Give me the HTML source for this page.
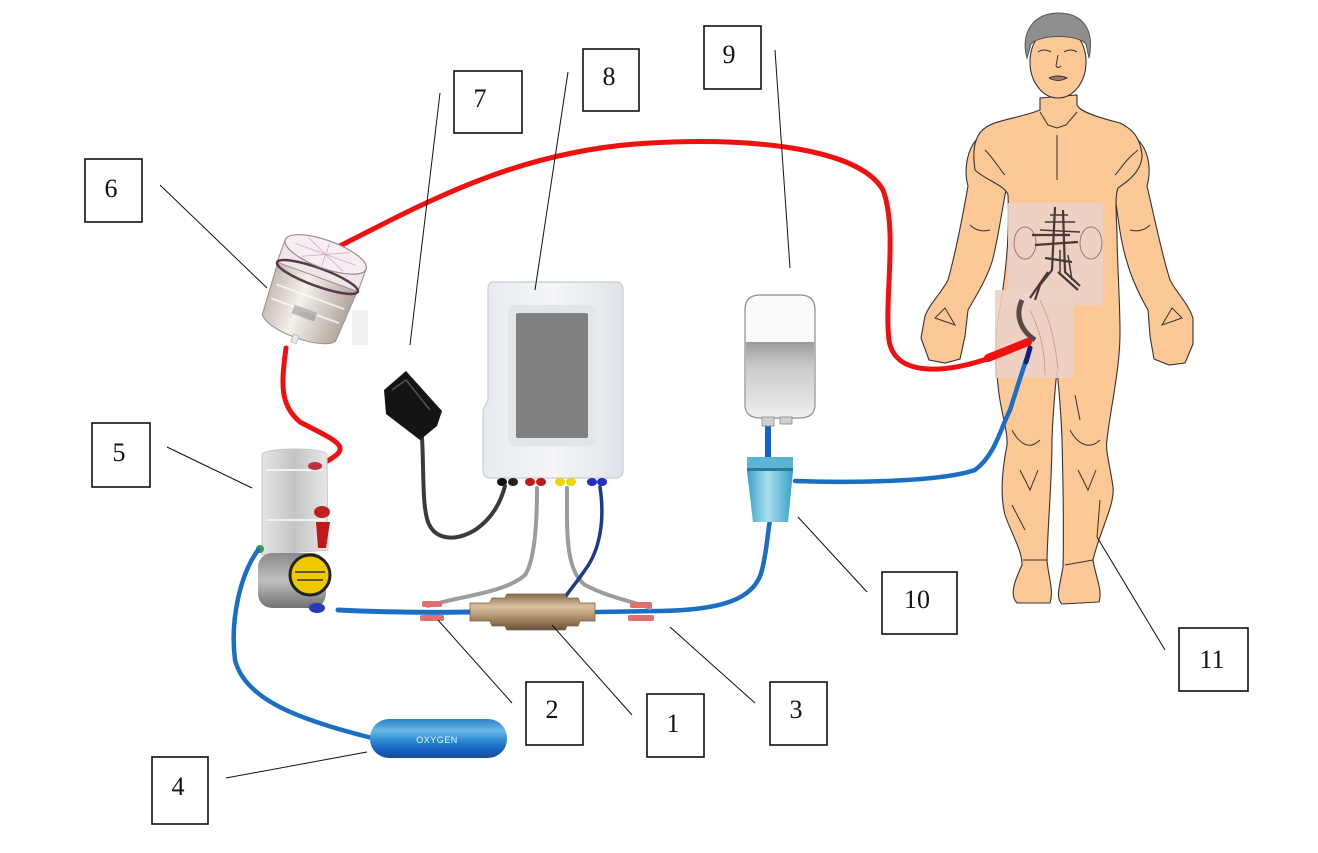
<!DOCTYPE html>
<html><head><meta charset="utf-8"><style>
html,body{margin:0;padding:0;background:#fff;}
svg{display:block;}
text{font-family:"Liberation Serif",serif;}
</style></head><body>
<svg width="1318" height="853" viewBox="0 0 1318 853" xmlns="http://www.w3.org/2000/svg">
<defs>
<linearGradient id="brass" x1="0" y1="0" x2="0" y2="1"><stop offset="0" stop-color="#8a6a4a"/><stop offset="0.35" stop-color="#d9c3a3"/><stop offset="0.7" stop-color="#a68562"/><stop offset="1" stop-color="#6a5038"/></linearGradient>
<linearGradient id="oxy" x1="0" y1="0" x2="0" y2="1"><stop offset="0" stop-color="#2a80c8"/><stop offset="0.3" stop-color="#6ab8e8"/><stop offset="0.55" stop-color="#2c8ad0"/><stop offset="0.8" stop-color="#1560c0"/><stop offset="1" stop-color="#1a4a90"/></linearGradient>
<linearGradient id="bag" x1="0" y1="0" x2="0" y2="1"><stop offset="0" stop-color="#9a9a9a"/><stop offset="0.3" stop-color="#c8c8c8"/><stop offset="1" stop-color="#eeeeee"/></linearGradient>
<linearGradient id="drip" x1="0" y1="0" x2="1" y2="0"><stop offset="0" stop-color="#3aa0c8"/><stop offset="0.45" stop-color="#a8e0ee"/><stop offset="1" stop-color="#3aa0c8"/></linearGradient>
<linearGradient id="dev8" x1="0" y1="0" x2="1" y2="0"><stop offset="0" stop-color="#e6e9ef"/><stop offset="0.5" stop-color="#f4f6f9"/><stop offset="1" stop-color="#dfe2e8"/></linearGradient>
<linearGradient id="chamber" x1="0" y1="0" x2="1" y2="0"><stop offset="0" stop-color="#e4e4e4"/><stop offset="0.5" stop-color="#c4c4c4"/><stop offset="1" stop-color="#e8e8e8"/></linearGradient>
<linearGradient id="filt" x1="0" y1="0" x2="1" y2="0"><stop offset="0" stop-color="#c4b9b0"/><stop offset="0.4" stop-color="#f4f0ea"/><stop offset="1" stop-color="#b0a49a"/></linearGradient>
<linearGradient id="pump" x1="0" y1="0" x2="0" y2="1"><stop offset="0" stop-color="#8a8a8a"/><stop offset="0.5" stop-color="#c0c0c0"/><stop offset="1" stop-color="#707070"/></linearGradient>
</defs>

<!-- ===== Human figure ===== -->
<g stroke="#3a3030" stroke-width="1.1" fill="#fcc895">
<path d="M978,138 C966,150 964,172 968,186 C962,220 955,255 948,280 C940,295 930,303 925,316 L921,338 L929,360 L945,363 L960,359 L965,336 L968,310 C976,296 986,280 992,262 C998,240 1001,215 1006,190 Z"/>
<path d="M1138,140 C1150,152 1151,172 1147,186 C1155,220 1162,255 1170,280 C1178,295 1188,303 1193,318 L1193,344 L1185,363 L1169,365 L1154,359 L1150,336 L1148,310 C1140,296 1132,280 1127,262 C1120,240 1118,215 1114,190 Z"/>
<path d="M1040,98 L1040,110 C1020,118 995,120 985,128 C975,135 972,150 975,170 C985,180 1005,185 1008,195 C1010,240 1005,280 998,320 C994,350 996,370 998,385 C1000,410 1008,430 1007,445 C1002,470 1000,495 1005,515 C1012,535 1022,550 1022,565 C1015,580 1009,595 1017,603 L1050,603 C1054,590 1048,575 1047,560 C1048,520 1052,480 1052,440 C1053,410 1055,390 1057,370 C1059,390 1061,410 1062,440 C1063,480 1064,530 1063,567 C1060,585 1055,598 1062,604 L1099,602 C1103,590 1095,575 1093,560 C1100,530 1115,505 1113,487 C1110,465 1105,450 1107,440 C1110,410 1120,370 1120,333 C1120,300 1117,260 1117,233 C1116,210 1115,195 1118,188 C1130,180 1142,170 1142,155 C1140,135 1130,128 1120,123 C1100,118 1080,112 1077,105 L1077,95 Z"/>
<ellipse cx="1058" cy="62" rx="28" ry="36"/>
</g>
<path d="M1027,58 C1020,32 1034,13 1058,13 C1083,13 1095,30 1089,58 L1086,44 C1078,34 1040,34 1031,44 Z" fill="#8e8e8e" stroke="#555" stroke-width="1"/>
<g stroke="#3a3030" stroke-width="1" fill="none">
<path d="M1038,52 q6,-4 13,0 M1064,52 q7,-4 13,0"/>
<path d="M1058,55 L1056,66 q2,3 5,0"/>
<path d="M1049,78 q9,-4 18,0 q-9,5 -18,0" fill="#b07070"/>
<path d="M1057,135 L1057,180"/>
<path d="M1040,112 L1048,125 L1057,128 L1066,125 L1077,112"/>
<path d="M985,150 C995,160 1000,170 1005,175 M1138,150 C1125,160 1120,170 1115,175"/>
<path d="M970,225 C975,230 982,232 990,230 M1150,225 C1145,230 1138,232 1130,230"/>
<path d="M935,318 L945,308 L955,325 Z M1182,318 L1172,308 L1162,325 Z"/>
<path d="M1012,430 C1020,445 1030,450 1040,440 M1020,470 L1030,490 L1038,470"/>
<path d="M1070,430 C1078,445 1090,450 1100,440 M1078,470 L1088,490 L1096,470"/>
<path d="M1023,560 L1047,560 M1065,565 L1093,560"/>
<path d="M1012,505 L1025,530 M1100,500 L1097,537"/>
<path d="M1075,395 L1080,420"/>
</g>
<rect x="1008" y="203" width="95" height="102" fill="#ecd2c6" opacity="0.9"/>
<rect x="995" y="290" width="78" height="88" fill="#ecd2c6" opacity="0.9"/>
<g stroke="#a07878" stroke-width="1" fill="none">
<ellipse cx="1025" cy="243" rx="11" ry="16"/>
<ellipse cx="1091" cy="243" rx="11" ry="16"/>
</g>
<g stroke="#4a3838" stroke-width="2.2" fill="none">
<path d="M1055,207 L1052,270 L1040,285 L1035,300 M1063,210 L1065,272 L1080,286"/>
<path d="M1032,235 L1070,235 M1035,245 L1078,242 M1045,258 L1072,262"/>
<path d="M1048,272 L1030,298 M1058,272 L1078,290"/>
<path d="M1045,222 L1075,222 M1040,230 L1080,232 M1050,215 L1068,215" stroke-width="1.5"/>
<path d="M1060,250 L1060,275 M1068,255 L1072,280" stroke-width="1.5"/>
<path d="M1022,300 C1015,315 1020,330 1035,340" stroke-width="5" stroke="#5a4848"/>
</g>
<g stroke="#d09090" stroke-width="0.8" fill="none">
<path d="M1040,300 C1050,320 1055,340 1058,370 M1030,310 C1040,330 1045,350 1045,375"/>
</g>

<!-- ===== Red tubes ===== -->
<g fill="none" stroke="#f01010" stroke-linecap="round">
<path d="M332,250 C430,200 520,150 650,143 C760,137 860,150 883,190 C898,230 884,300 889,340 C894,375 940,375 990,358" stroke-width="5"/>
<path d="M988,358 L1028,342" stroke-width="8"/>
<path d="M286,348 C281,385 280,405 300,422 C330,438 350,445 335,456 C326,463 318,466 312,468" stroke-width="5"/>
</g>

<!-- ===== Filter (6) ===== -->
<g transform="translate(312,292) rotate(20)">
<path d="M-43,-28 L-39,38 C-30,52 30,52 39,38 L43,-28 Z" fill="url(#filt)" stroke="#9a8e86" stroke-width="1"/>
<path d="M-36,5 L36,5 M-36,20 L36,20" stroke="#ffffff" stroke-width="2" opacity="0.7"/>
<rect x="-43" y="-40" width="86" height="24" fill="#efe6e8" stroke="#a08890" stroke-width="1"/>
<ellipse cx="0" cy="-16" rx="43" ry="9" fill="none" stroke="#5a3a4a" stroke-width="2.5"/>
<ellipse cx="0" cy="-40" rx="43" ry="14" fill="#f6eef2" stroke="#a08890" stroke-width="1.2"/>
<path d="M-32,-40 L32,-40 M0,-52 L0,-28 M-22,-50 L22,-30 M22,-50 L-22,-30" stroke="#d8a8c0" stroke-width="0.8"/>
<rect x="-12" y="18" width="24" height="9" fill="#777" opacity="0.45"/>
<rect x="-3" y="46" width="6" height="8" fill="#e8e8e8" stroke="#aaa" stroke-width="0.6"/>
</g>
<rect x="352" y="310" width="16" height="35" fill="#eeeeee" opacity="0.8"/>

<!-- ===== Device 5 ===== -->
<path d="M262,455 C262,447 327,447 327,455 L328,550 L262,555 Z" fill="url(#chamber)" stroke="#c8c8c8" stroke-width="1"/>
<path d="M266,470 L324,470 M266,520 L324,520" stroke="#f2f2f2" stroke-width="2"/>
<ellipse cx="315" cy="466" rx="7" ry="4" fill="#c03040"/>
<ellipse cx="322" cy="512" rx="8" ry="6" fill="#c02020"/>
<path d="M316,522 L330,522 L326,548 L318,548 Z" fill="#c01818"/>
<rect x="258" y="553" width="68" height="55" rx="14" fill="url(#pump)"/>
<circle cx="310" cy="575" r="20" fill="#f0c800" stroke="#222" stroke-width="3"/>
<path d="M295,572 L325,572 M297,580 L323,580" stroke="#333" stroke-width="1.5"/>
<ellipse cx="317" cy="608" rx="8" ry="5" fill="#2838b8"/>
<circle cx="260" cy="549" r="4" fill="#30a050"/>

<!-- ===== Blue tubes ===== -->
<g fill="none" stroke="#1a6fc4" stroke-linecap="round">
<path d="M258,550 C240,575 230,620 235,660 C245,700 300,720 372,738" stroke-width="4.5"/>
<path d="M338,610 C380,612 420,613 470,612" stroke-width="5"/>
<path d="M595,612 L660,611 C720,610 755,600 762,570 C767,550 768,530 770,520" stroke-width="4.5"/>
<path d="M795,481 C850,483 940,482 975,470 C995,455 1000,430 1010,410 L1026,360" stroke-width="4.5"/>
<path d="M768,423 L768,458" stroke-width="6" stroke="#1060c8"/>
</g>
<path d="M1026,362 L1030,348" stroke="#10207a" stroke-width="5" stroke-linecap="round"/>

<!-- ===== Device 8 ===== -->
<path d="M493,282 L616,282 Q623,282 623,290 L623,470 Q623,478 615,478 L491,478 Q483,478 483,470 L483,410 L488,400 L488,290 Q488,282 493,282 Z" fill="url(#dev8)" stroke="#cfd3da" stroke-width="1.5"/>
<rect x="508" y="305" width="88" height="141" rx="6" fill="#e2e5ea"/>
<rect x="516" y="313" width="72" height="125" rx="2" fill="#808080"/>
<g>
<ellipse cx="502" cy="482" rx="5" ry="4" fill="#111"/><ellipse cx="513" cy="482" rx="5" ry="4" fill="#222"/>
<ellipse cx="530" cy="482" rx="5" ry="4" fill="#c01818"/><ellipse cx="541" cy="482" rx="5" ry="4" fill="#c01818"/>
<ellipse cx="560" cy="482" rx="5" ry="4" fill="#e8d800"/><ellipse cx="571" cy="482" rx="5" ry="4" fill="#e8d800"/>
<ellipse cx="592" cy="482" rx="5" ry="4" fill="#2030c0"/><ellipse cx="602" cy="482" rx="5" ry="4" fill="#2030c0"/>
</g>
<g fill="none" stroke-linecap="round">
<path d="M505,486 C500,505 490,520 475,530 C455,542 435,540 428,522 C422,505 424,470 422,438" stroke="#3a3a3a" stroke-width="4"/>
<path d="M537,488 C537,520 535,560 525,575 C505,593 460,596 428,606" stroke="#9c9c9c" stroke-width="4"/>
<path d="M567,488 C567,530 565,570 585,585 C610,598 632,601 650,608" stroke="#9c9c9c" stroke-width="4"/>
<path d="M600,487 C605,520 600,550 585,570 C575,585 566,594 563,601" stroke="#1a3a8a" stroke-width="3.5"/>
</g>
<path d="M384,390 L406,371 L442,411 L437,426 L420,440 L386,414 Z" fill="#141414"/>
<path d="M392,390 L406,380 L430,410" fill="none" stroke="#555" stroke-width="1.5"/>

<!-- ===== Connector (1) & clamps ===== -->
<path d="M470,603 L490,603 L492,598 L505,598 L507,594 L565,594 L567,598 L578,598 L580,603 L595,603 L595,621 L580,621 L578,626 L567,626 L565,630 L507,630 L505,626 L492,626 L490,621 L470,621 Z" fill="url(#brass)" stroke="#7a6048" stroke-width="0.8"/>
<g fill="#e07070">
<rect x="422" y="601" width="20" height="6" rx="2"/><rect x="420" y="615" width="24" height="6" rx="2"/>
<rect x="630" y="602" width="22" height="6" rx="2"/><rect x="628" y="615" width="26" height="6" rx="2"/>
</g>

<!-- ===== Oxygen (4) ===== -->
<rect x="370" y="719" width="137" height="39" rx="19" fill="url(#oxy)"/>
<text x="437" y="743" text-anchor="middle" fill="#e8f4ff" style="font-family:'Liberation Sans',sans-serif;font-size:9px;letter-spacing:0.5px;">OXYGEN</text>

<!-- ===== Bag (9) & drip (10) ===== -->
<path d="M745,310 C745,298 752,295 760,295 L800,295 C808,295 815,298 815,310 L815,405 C815,413 810,418 800,418 L760,418 C750,418 745,413 745,405 Z" fill="#fafafa" stroke="#8a8a8a" stroke-width="1.2"/>
<path d="M746,342 L814,342 L814,405 C814,412 810,417 800,417 L760,417 C750,417 746,412 746,405 Z" fill="url(#bag)"/>
<rect x="762" y="417" width="12" height="9" fill="#cfcfcf" stroke="#888" stroke-width="0.8"/>
<rect x="780" y="417" width="12" height="7" fill="#cfcfcf" stroke="#888" stroke-width="0.8"/>
<rect x="747" y="457" width="46" height="14" fill="#5ab4d4"/>
<rect x="747" y="468" width="46" height="3" fill="#2a7a9a"/>
<path d="M747,471 L793,471 L788,522 L753,522 Z" fill="url(#drip)"/>

<!-- ===== Leader lines ===== -->
<g stroke="#111" stroke-width="1">
<line x1="160" y1="185" x2="267" y2="288"/>
<line x1="167" y1="447" x2="252" y2="488"/>
<line x1="440" y1="93" x2="410" y2="345"/>
<line x1="568" y1="72" x2="535" y2="290"/>
<line x1="775" y1="50" x2="790" y2="268"/>
<line x1="798" y1="517" x2="867" y2="592"/>
<line x1="1097" y1="537" x2="1165" y2="650"/>
<line x1="438" y1="620" x2="512" y2="703"/>
<line x1="552" y1="625" x2="632" y2="715"/>
<line x1="670" y1="627" x2="755" y2="703"/>
<line x1="226" y1="778" x2="367" y2="752"/>
</g>

<!-- ===== Number boxes ===== -->
<g fill="#fff" stroke="#111" stroke-width="1.6">
<rect x="647" y="694" width="57" height="63"/>
<rect x="526" y="682" width="57" height="63"/>
<rect x="770" y="682" width="57" height="63"/>
<rect x="152" y="757" width="56" height="67"/>
<rect x="92" y="423" width="58" height="64"/>
<rect x="85" y="159" width="57" height="63"/>
<rect x="454" y="71" width="68" height="62"/>
<rect x="583" y="49" width="56" height="62"/>
<rect x="704" y="26" width="57" height="63"/>
<rect x="882" y="572" width="75" height="62"/>
<rect x="1179" y="628" width="69" height="63"/>
</g>
<g font-size="26" fill="#111" text-anchor="middle">
<text x="673" y="732">1</text>
<text x="552" y="718">2</text>
<text x="796" y="718">3</text>
<text x="178" y="795">4</text>
<text x="119" y="461">5</text>
<text x="111" y="197">6</text>
<text x="480" y="107">7</text>
<text x="609" y="85">8</text>
<text x="729" y="63">9</text>
<text x="917" y="608">10</text>
<text x="1212" y="668">11</text>
</g>
</svg>
</body></html>
